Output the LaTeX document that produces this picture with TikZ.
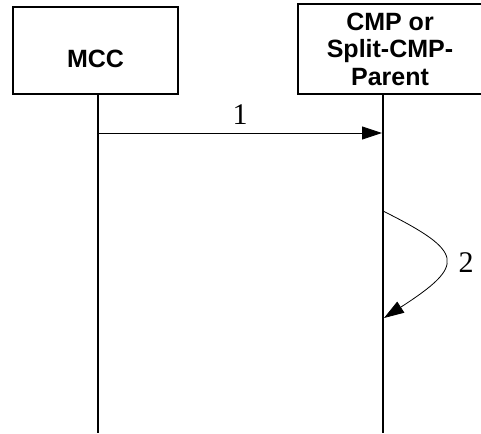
\documentclass[tikz,border=0pt]{standalone}
\usepackage{fontspec}
\setmainfont{Liberation Serif}
\setsansfont{Liberation Sans}
\usetikzlibrary{arrows.meta,positioning}

\tikzset{
    entity/.style={draw, line width=1.5pt, font=\sffamily\bfseries\fontsize{25}{27.5}\selectfont, align=center, inner sep=0pt},
    lifeline/.style={line width=1.5pt},
    msg/.style={line width=0.9pt, -{Triangle[length=20pt,width=13pt]}},
    msglabel/.style={font=\fontsize{30}{32}\selectfont}
}

\begin{document}
\begin{tikzpicture}[x=1pt, y=-1pt]
    \clip (0,0) rectangle (481,433);
    \node[entity, minimum width=165pt, minimum height=87pt] (mcc) at (95.5,50.5) {};
    \node[entity, draw=none] (mcctext) at (95.5,59) {MCC};
    \node[entity, minimum width=184pt, minimum height=90pt] (cmp) at (390,49) {CMP or\\Split-CMP-\\Parent};
    \coordinate (mccend) at (98,433);
    \coordinate (cmpend) at (383,433);
    \draw[lifeline] (mcc.south -| mccend) -- (mccend);
    \draw[lifeline] (cmp.south -| cmpend) -- (cmpend);
    \coordinate (m1a) at (98,133);
    \coordinate (m1b) at (382,133);
    \draw[msg] (m1a) -- node[msglabel, above=5pt] (l1) {1} (m1b);
    \coordinate (m2a) at (383,211);
    \coordinate (m2b) at (384,318);
    \draw[msg, line width=0.8pt] (m2a) .. controls (465,252) and (466,265) .. (m2b);
    \node[msglabel] (l2) at (466,263) {2};
\end{tikzpicture}
\end{document}
